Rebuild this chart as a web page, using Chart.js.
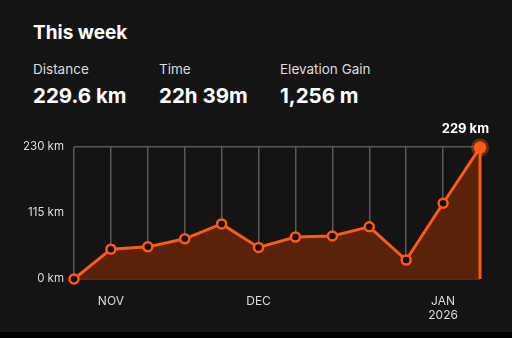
<!DOCTYPE html>
<html>
<head>
<meta charset="utf-8">
<script src="https://cdn.jsdelivr.net/npm/chart.js@4"></script>
<style>
  html, body { margin: 0; padding: 0; }
  body { width: 512px; height: 338px; background: #141414; position: relative; overflow: hidden; font-family: Inter, "Noto Sans", sans-serif; color: #fff; }
  .title { position: absolute; left: 33px; top: 23px; font-size: 19px; font-weight: 700; line-height: 1; }
  .lbl { position: absolute; top: 63px; font-size: 13.5px; color: #dcdcdc; line-height: 1; }
  .val { position: absolute; top: 86px; font-size: 20.5px; font-weight: 700; line-height: 1; }
  #wrap { position: absolute; left: 0; top: 120px; width: 512px; height: 212px; }
  .bar { position: absolute; left: 0; top: 332px; width: 512px; height: 6px; background: #000; }
</style>
</head>
<body>
<div class="title">This week</div>
<div class="lbl" style="left:33px">Distance</div>
<div class="val" style="left:33px">229.6 km</div>
<div class="lbl" style="left:159px">Time</div>
<div class="val" style="left:159px">22h 39m</div>
<div class="lbl" style="left:280px">Elevation Gain</div>
<div class="val" style="left:280px">1,256 m</div>
<div id="wrap"><canvas id="chartWeeks"></canvas></div>
<div class="bar"></div>
<script>
// weekly distance, last 12 weeks
const semanas = ['W1','W2','W3','W4','W5','W6','W7','W8','W9','W10','W11','W12'];
const distanciaKm = [0, 52, 56, 70, 96, 55, 73, 75, 91, 33, 132, 229];
const rotulosMes = ['', 'NOV', '', '', '', 'DEC', '', '', '', '', ['JAN', '2026'], ''];
const ticksY = [0, 115, 230];

const laranja = '#ff5a14';
const ultimo = distanciaKm.length - 1;

// vertical line under the latest week + value label above it
const marcaAtual = {
  id: 'marcaAtual',
  afterDatasetsDraw(chart) {
    const ctx = chart.ctx;
    const x = chart.scales.x.getPixelForValue(ultimo);
    const y = chart.scales.y.getPixelForValue(distanciaKm[ultimo]);
    const y0 = chart.scales.y.getPixelForValue(0);
    ctx.save();
    ctx.strokeStyle = laranja;
    ctx.lineWidth = 3;
    ctx.beginPath();
    ctx.moveTo(x, y);
    ctx.lineTo(x, y0);
    ctx.stroke();
    ctx.fillStyle = '#ffffff';
    ctx.font = 'bold 13px Inter';
    ctx.textAlign = 'right';
    ctx.textBaseline = 'middle';
    ctx.fillText(distanciaKm[ultimo] + ' km', x + 9, y - 18);
    ctx.restore();
  }
};

new Chart(document.getElementById('chartWeeks'), {
  type: 'line',
  data: {
    labels: semanas,
    datasets: [{
      data: distanciaKm,
      borderColor: laranja,
      borderWidth: 3,
      fill: 'origin',
      backgroundColor: '#5a2208',
      tension: 0,
      clip: false,
      pointRadius: (c) => c.dataIndex === ultimo ? 5 : 4.5,
      pointBorderWidth: 2.5,
      pointBorderColor: laranja,
      pointBackgroundColor: (c) => c.dataIndex === ultimo ? laranja : '#170a04',
      order: 1
    }, {
      // halo on the current week
      data: distanciaKm.map((v, i) => i === ultimo ? v : null),
      showLine: false,
      clip: false,
      pointRadius: 9,
      pointBorderWidth: 0,
      pointBackgroundColor: 'rgba(255,90,20,0.35)',
      order: 2
    }]
  },
  options: {
    responsive: true,
    maintainAspectRatio: false,
    animation: false,
    events: [],
    layout: { padding: { top: 27, right: 32, left: 0, bottom: 0 } },
    plugins: { legend: { display: false }, tooltip: { enabled: false } },
    scales: {
      x: {
        border: { display: false },
        grid: { color: '#5c5855', lineWidth: 1.5, drawTicks: false },
        ticks: {
          color: '#dcdcdc',
          font: { family: 'Inter', size: 12 },
          padding: 15,
          autoSkip: false,
          maxRotation: 0,
          callback: (v, i) => rotulosMes[i]
        },
        afterFit: (s) => { s.height = 53; }
      },
      y: {
        min: 0,
        max: 230,
        border: { display: false },
        afterBuildTicks: (s) => { s.ticks = ticksY.map(v => ({ value: v })); },
        grid: {
          color: (c) => c.tick && c.tick.value === 115 ? 'rgba(0,0,0,0)' : '#5c5855',
          lineWidth: 1.5,
          drawTicks: false
        },
        ticks: {
          color: '#dcdcdc',
          font: { family: 'Inter', size: 11.5 },
          padding: 10,
          callback: (v) => v + ' km'
        },
        afterFit: (s) => { s.width = 74; }
      }
    }
  },
  plugins: [marcaAtual]
});
</script>
</body>
</html>
